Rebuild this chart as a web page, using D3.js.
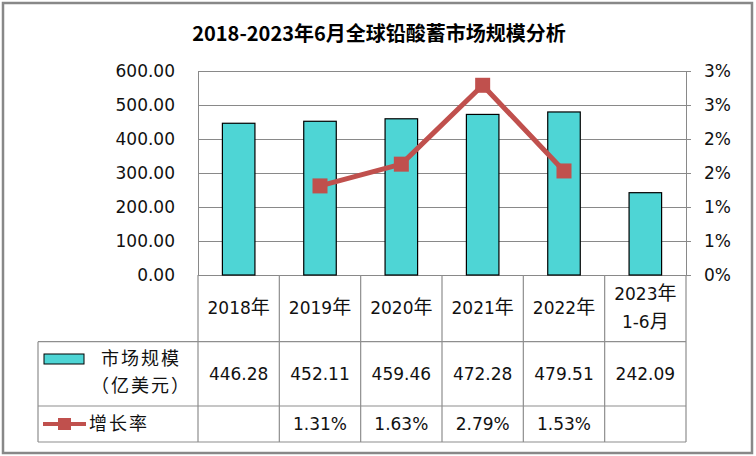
<!DOCTYPE html>
<html><head><meta charset="utf-8">
<script src="https://cdn.jsdelivr.net/npm/d3@7"></script>
<style>html,body{margin:0;padding:0;background:#fff}</style>
</head><body>
<svg id="c" width="756" height="456"></svg>
<script>
const title = "2018-2023年6月全球铅酸蓄市场规模分析";
const categories = ["2018年","2019年","2020年","2021年","2022年","2023年\n1-6月"];
const marketSize = [446.28, 452.11, 459.46, 472.28, 479.51, 242.09];
const marketSizeLabels = ["446.28","452.11","459.46","472.28","479.51","242.09"];
const growthRate = [null, 1.31, 1.63, 2.79, 1.53, null]; // percent
const growthLabels = ["", "1.31%", "1.63%", "2.79%", "1.53%", ""];
const leftTicks = [0,100,200,300,400,500,600];
const leftTickLabels = ["0.00","100.00","200.00","300.00","400.00","500.00","600.00"];
const rightTicks = [0,0.5,1,1.5,2,2.5,3];
const rightTickLabels = ["0%","1%","1%","2%","2%","3%","3%"];
const seriesNames = ["市场规模", "（亿美元）", "增长率"];

const svg = d3.select("#c");
const L = 198, R = 686, T = 71, B = 275;
const rowH1 = 341.7, rowH2 = 406, rowH3 = 442, tableLeft = 38;
const FONT = "'DejaVu Sans','Noto Sans CJK SC',sans-serif";
const CJK = "'Noto Sans CJK SC',sans-serif";
const barColor = "#4ED5D5", lineColor = "#C0504D", gridColor = "#898989", tableColor = "#8E8E8E";

const x = d3.scaleBand().domain(categories).range([L, R]).paddingInner(0).paddingOuter(0);
const bw = x.bandwidth();
const yL = d3.scaleLinear().domain([0, 600]).range([B, T]);
const yR = d3.scaleLinear().domain([0, 3]).range([B, T]);

// outer border
svg.append("rect").attr("x",3).attr("y",3).attr("width",749).attr("height",450)
  .attr("fill","#fff").attr("stroke","#888").attr("stroke-width",2.5);

// title
svg.append("text").attr("x",379).attr("y",41).attr("text-anchor","middle")
  .attr("font-family",CJK).attr("font-weight","bold").attr("font-size",20).attr("fill","#000")
  .text(title);

// text helper: digits in DejaVu 17px, CJK chars larger
function richText(sel, str) {
  const parts = str.match(/[\u3000-\u9fff\uff00-\uffef]+|[^\u3000-\u9fff\uff00-\uffef]+/g) || [];
  parts.forEach(p => {
    const cjk = /[\u3000-\u9fff\uff00-\uffef]/.test(p);
    sel.append("tspan").attr("font-family", cjk ? CJK : FONT).attr("font-size", cjk ? 19 : 17).text(p);
  });
}

// gridlines
svg.append("g").selectAll("line").data(leftTicks).join("line")
  .attr("x1",L).attr("x2",R+5).attr("y1",d=>Math.round(yL(d))+0.5).attr("y2",d=>Math.round(yL(d))+0.5)
  .attr("stroke",gridColor).attr("stroke-width",1);
// axis lines
svg.append("line").attr("x1",L+0.5).attr("x2",L+0.5).attr("y1",T).attr("y2",B).attr("stroke",gridColor);
svg.append("line").attr("x1",R+0.5).attr("x2",R+0.5).attr("y1",T).attr("y2",B).attr("stroke",gridColor);

// left tick labels
svg.append("g").selectAll("text").data(leftTicks).join("text")
  .attr("x",175).attr("y",d=>yL(d)).attr("dy","0.36em").attr("text-anchor","end")
  .attr("font-family",FONT).attr("font-size",17).attr("fill","#111")
  .text((d,i)=>leftTickLabels[i]);
// right tick labels
svg.append("g").selectAll("text").data(rightTicks).join("text")
  .attr("x",704).attr("y",d=>yR(d)).attr("dy","0.36em").attr("text-anchor","start")
  .attr("font-family",FONT).attr("font-size",17).attr("fill","#111")
  .text((d,i)=>rightTickLabels[i]);

// bars
svg.append("g").selectAll("rect").data(marketSize).join("rect")
  .attr("x",(d,i)=>x(categories[i]) + bw*0.3).attr("width",bw*0.4)
  .attr("y",d=>yL(d)).attr("height",d=>B - yL(d))
  .attr("fill",barColor).attr("stroke","#000").attr("stroke-width",1.2);

// line
const pts = growthRate.map((v,i)=>({v, c: categories[i]})).filter(d=>d.v!==null);
svg.append("path").datum(pts)
  .attr("d", d3.line().x(d=>x(d.c)+bw/2).y(d=>yR(d.v)))
  .attr("fill","none").attr("stroke",lineColor).attr("stroke-width",5).attr("stroke-linejoin","round");
svg.append("g").selectAll("rect").data(pts).join("rect")
  .attr("x",d=>x(d.c)+bw/2-7.5).attr("y",d=>yR(d.v)-7.5).attr("width",15).attr("height",15)
  .attr("fill",lineColor);

// table lines
const tg = svg.append("g").attr("stroke",tableColor).attr("stroke-width",1.2);
d3.range(categories.length+1).forEach(i=>{
  const xx = L + i*bw;
  tg.append("line").attr("x1",xx).attr("x2",xx).attr("y1",B).attr("y2",rowH3);
});
[rowH1,rowH2,rowH3].forEach(yy=>{
  tg.append("line").attr("x1",tableLeft).attr("x2",R).attr("y1",yy).attr("y2",yy);
});
tg.append("line").attr("x1",tableLeft).attr("x2",tableLeft).attr("y1",rowH1).attr("y2",rowH3);

// category labels
categories.forEach(c=>{
  const lines = c.split("\n");
  const cy = (B + rowH1)/2;
  lines.forEach((ln,j)=>{
    const yy = cy + (j - (lines.length-1)/2)*28;
    const t = svg.append("text").attr("x",x(c)+bw/2).attr("y",yy).attr("dy","0.36em")
      .attr("text-anchor","middle").attr("fill","#111");
    richText(t, ln);
  });
});
// values
marketSizeLabels.forEach((s,i)=>{
  svg.append("text").attr("x",x(categories[i])+bw/2).attr("y",(rowH1+rowH2)/2).attr("dy","0.36em")
    .attr("text-anchor","middle").attr("font-family",FONT).attr("font-size",17).attr("fill","#111").text(s);
});
growthLabels.forEach((s,i)=>{
  svg.append("text").attr("x",x(categories[i])+bw/2).attr("y",(rowH2+rowH3)/2).attr("dy","0.36em")
    .attr("text-anchor","middle").attr("font-family",FONT).attr("font-size",17).attr("fill","#111").text(s);
});

// legend entries
svg.append("rect").attr("x",44).attr("y",354).attr("width",40).attr("height",10)
  .attr("fill",barColor).attr("stroke","#000").attr("stroke-width",1);
svg.append("text").attr("x",141).attr("y",359).attr("dy","0.36em").attr("text-anchor","middle")
  .attr("font-family",CJK).attr("font-size",18).attr("letter-spacing",2).attr("fill","#111").text(seriesNames[0]);
svg.append("text").attr("x",141).attr("y",386).attr("dy","0.36em").attr("text-anchor","middle")
  .attr("font-family",CJK).attr("font-size",18).attr("letter-spacing",2).attr("fill","#111").text(seriesNames[1]);
svg.append("line").attr("x1",43).attr("x2",86).attr("y1",424).attr("y2",424)
  .attr("stroke",lineColor).attr("stroke-width",4);
svg.append("rect").attr("x",58).attr("y",418).attr("width",13).attr("height",12).attr("fill",lineColor);
svg.append("text").attr("x",89).attr("y",424).attr("dy","0.36em").attr("text-anchor","start")
  .attr("font-family",CJK).attr("font-size",18).attr("letter-spacing",2).attr("fill","#111").text(seriesNames[2]);
</script>
</body></html>
